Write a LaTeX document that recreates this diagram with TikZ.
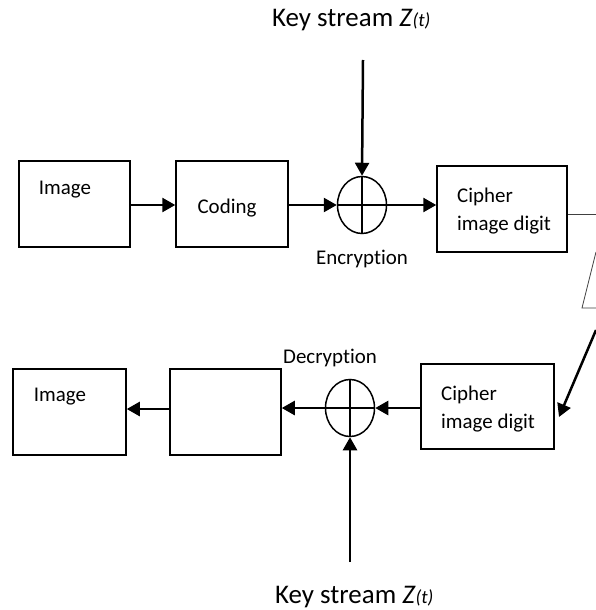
\documentclass[tikz,border=0pt]{standalone}
\usepackage{fontspec}
\setmainfont{Carlito}[Ligatures={NoCommon,NoContextual}]
\usetikzlibrary{shapes.geometric,arrows.meta}
\begin{document}
\begin{tikzpicture}[x=1bp,y=-1bp,
  box/.style={draw,line width=1.5bp,rectangle,inner sep=0pt},
  xorc/.style={draw,line width=1.5bp,ellipse,inner sep=0pt,minimum width=49bp,minimum height=57bp},
  txt/.style={font=\fontsize{21}{28}\selectfont,inner sep=0pt},
  keytxt/.style={font=\fontsize{27}{32}\selectfont,inner sep=0pt},
  flow/.style={line width=2.5bp,-{Triangle[length=13bp,width=14bp]}},
  thin/.style={line width=0.8bp,draw=black!75}]
\useasboundingbox (0,0) rectangle (596,610);
\fill[white] (0,0) rectangle (596,610);
% top row
\node[box,minimum width=111bp,minimum height=86bp] (img1) at (74.5,204) {};
\node[txt] (img1t) at (65,190) {Image};
\node[box,minimum width=112bp,minimum height=86bp] (coding) at (232,204) {};
\node[txt] (codingt) at (227,208) {Coding};
\node[xorc] (xor1) at (362,205) {};
\draw[line width=1.5bp] (xor1.north) -- (xor1.south) (xor1.west) -- (xor1.east);
\node[txt] (enc) at (362,259) {Encryption};
\node[box,minimum width=130bp,minimum height=86bp] (cipher1) at (502,209) {};
\node[txt,anchor=west,align=left] (cipher1t) at (457,211) {Cipher\\image digit};
\node[keytxt,anchor=base west] (key1t) at (272,27) {Key stream \textit{Z}{\fontsize{19}{22}\selectfont\textit{(t)}}};
\coordinate (key1) at (363,60);
% bottom row
\node[box,minimum width=113bp,minimum height=86bp] (img2) at (69.5,412) {};
\node[txt] (img2t) at (60,397) {Image};
\node[box,minimum width=111bp,minimum height=86bp] (box2) at (225.5,412) {};
\node[xorc] (xor2) at (350,408) {};
\draw[line width=1.5bp] (xor2.north) -- (xor2.south) (xor2.west) -- (xor2.east);
\node[txt] (dec) at (330,358) {Decryption};
\node[box,minimum width=133bp,minimum height=85bp] (cipher2) at (487.5,406.5) {};
\node[txt,anchor=west,align=left] (cipher2t) at (441,409) {Cipher\\image digit};
\node[keytxt,anchor=base west] (key2t) at (275,603) {Key stream \textit{Z}{\fontsize{19}{22}\selectfont\textit{(t)}}};
\coordinate (key2) at (350,562);
% arrows
\draw[flow] (img1.east |- 0,205) -- (coding.west |- 0,205);
\draw[flow] (coding.east |- xor1.west) -- (xor1.west);
\draw[flow] (key1) -- (xor1.north);
\draw[flow] (xor1.east) -- (xor1.east -| cipher1.west);
\draw[flow] (cipher2.west |- xor2.east) -- (xor2.east);
\draw[flow] (xor2.west) -- (xor2.west -| box2.east);
\draw[flow] (box2.west |- 0,409) -- (img2.east |- 0,409);
\draw[flow] (key2) -- (xor2.south);
% connector to the lower cipher box
\coordinate (c1) at (596,214);
\coordinate (c2) at (596,252);
\coordinate (c3) at (582,308);
\coordinate (c4) at (596,308);
\coordinate (c5) at (596,330);
\coordinate (c6) at (559,417);
\draw[thin] (cipher1.east |- c1) -- (c1);
\draw[thin] (c2) -- (c3) -- (c4);
\draw[flow] (c5) -- (c6);
\end{tikzpicture}
\end{document}
